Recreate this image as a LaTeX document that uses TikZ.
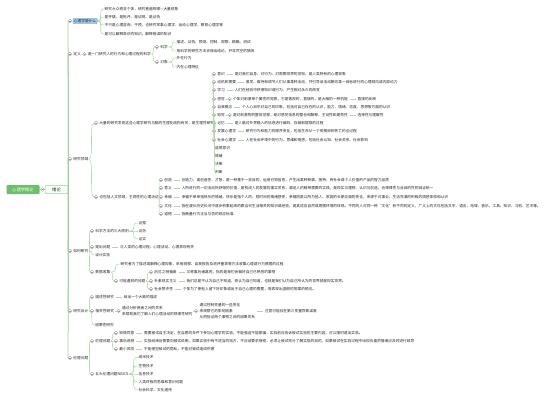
\documentclass[tikz,border=0pt]{standalone}
\usepackage{fontspec}
\setmainfont{Noto Sans CJK SC}
\usetikzlibrary{positioning}

\definecolor{rootg}{HTML}{6DBF6A}
\definecolor{linkg}{HTML}{ADDAA8}
\definecolor{trunkg}{HTML}{94D290}
\definecolor{hlblue}{HTML}{A3CBE8}
\definecolor{hlline}{HTML}{5A9BD0}
\definecolor{togc}{HTML}{A0A0A0}
\definecolor{txtc}{HTML}{262626}

\begin{document}
\begin{tikzpicture}[
    x=1pt, y=-1pt,
    txt/.style={anchor=west, inner sep=0.5pt, text=txtc, font=\fontsize{3.7}{6}\selectfont},
    multi/.style={txt, align=left},
    root/.style={fill=rootg, text=white, rounded corners=1pt, minimum width=33pt, minimum height=9pt, inner sep=0pt, font=\fontsize{4.3}{5}\selectfont},
    topic/.style={draw=trunkg, fill=green!3, line width=0.5pt, rounded corners=1pt, minimum width=23pt, minimum height=8pt, inner sep=0pt, text=txtc, font=\fontsize{4.3}{5}\selectfont},
    hl/.style={txt, fill=hlblue, draw=hlline, line width=0.3pt, rounded corners=0.8pt, inner sep=1pt},
    tog/.style={circle, draw=togc, fill=white, line width=0.35pt, minimum size=3.6pt, inner sep=0pt,
      path picture={\draw[togc, line width=0.35pt] ([xshift=-1pt]path picture bounding box.center) -- ([xshift=1pt]path picture bounding box.center);}},
    link/.style={draw=linkg, line width=0.55pt},
    trunk/.style={draw=trunkg, line width=0.75pt},
    tie/.style={link, shorten <=1.2pt, shorten >=1.2pt},
  ]
  \fill[white] (0,0) rectangle (549,400);
  \useasboundingbox (0,0) rectangle (549,400);

  % root and main topic
  \node[root] (root) at (23,189.5) {心理学概论};
  \node[tog] (tXulun) at (42.5,189.5) {};
  \node[topic] (xulun) at (56.5,189.5) {绪论};

  % first level
  \node[tog] (tWhat) at (70,21) {};
  \node[hl, right=0.8pt of tWhat] (what) {心理学是什么};
  \node[tog] (tDef) at (70,54) {};
  \node[txt, right=0.8pt of tDef] (def) {定义};
  \node[tog] (tField) at (70,159) {};
  \node[txt, right=0.8pt of tField] (field) {研究领域};
  \node[tog] (tHow) at (70,251) {};
  \node[txt, right=0.8pt of tHow] (how) {如何研究};
  \node[tog] (tDesign) at (70,311) {};
  \node[txt, right=0.8pt of tDesign] (design) {研究设计};
  \node[tog] (tEthic) at (70,358) {};
  \node[txt, right=0.8pt of tEthic] (ethic) {伦理问题};

  % what is psychology
  \node[txt] (what1) at (104,9) {研究大众而非个体，研究普遍规律—大量现象};
  \node[txt] (what2) at (104,17) {是怀疑、是批评、是证明、是证伪};
  \node[txt] (what3) at (104,25) {不只是心理咨询、干预，也研究军事心理学、运动心理学、教育心理学等};
  \node[txt] (what4) at (104,34) {是可以解释常识的知识，解释错误的知识};

  % definition
  \node[tog, right=1pt of def] (tDef1) {};
  \node[txt, right=0.8pt of tDef1] (def1) {是一门研究人的行为和心理过程的科学};
  \node[tog] (tSci) at (157,47) {};
  \node[txt, right=0.8pt of tSci] (sci) {科学};
  \node[tog] (tObj) at (157,62) {};
  \node[txt, right=0.8pt of tObj] (obj) {对象};
  \node[txt] (sci1) at (176,42) {描述、证伪、预测、控制、观察、精确、测试};
  \node[txt] (sci2) at (176,51) {用科学的研究方法去得出结论，并非凭空的猜测};
  \node[txt] (obj1) at (176,58) {外在行为};
  \node[txt] (obj2) at (176,67) {内在心理特征};

  % fields
  \node[tog] (tBio) at (96,123) {};
  \node[txt, right=0.8pt of tBio] (bio) {大量的研究发现这些心理学研究与脑的生理化结构有关，是生理性研究};
  \node[tog] (tCon) at (214,74) {};
  \node[txt, right=0.8pt of tCon] (con) {意识};
  \node[txt, right=8.5pt of con] (conD) {是对我们自身、对行为、对周围世界的觉知，是人类特有的心理现象};
  \node[tog] (tMot) at (214,82) {};
  \node[txt, right=0.8pt of tMot] (mot) {动机和需要};
  \node[txt, right=8.5pt of mot] (motD) {激发、维持和调节人们从事某种活动，并引导该活动朝向某一目标进行的心理倾向或内部动力};
  \node[tog] (tLrn) at (214,90) {};
  \node[txt, right=0.8pt of tLrn] (lrn) {学习};
  \node[txt, right=8.5pt of lrn] (lrnD) {人们在经验中获得知识或行为，产生相对永久的改变};
  \node[tog] (tSen) at (214,99) {};
  \node[txt, right=0.8pt of tSen] (sen) {感觉};
  \node[tog, right=2pt of sen] (tSenD) {};
  \node[txt, right=0.8pt of tSenD] (senD) {个体对刺激单个属性的觉察，它是客观的，直接的，是大脑的一种机能};
  \node[txt, right=8.5pt of senD] (senE) {直接的反映};
  \node[tog] (tSelf) at (214,107) {};
  \node[txt, right=0.8pt of tSelf] (self) {自我概念};
  \node[txt, right=8.5pt of self] (selfD) {个人心目中对自己的印象，包括对自己存在的认识，能力、情绪、态度、思想等方面的认识};
  \node[tog] (tPer) at (214,115) {};
  \node[txt, right=0.8pt of tPer] (per) {知觉};
  \node[tog, right=2pt of per] (tPerD) {};
  \node[txt, right=0.8pt of tPerD] (perD) {是对刺激物的整体觉察，是对感觉信息的整合和解释，主动性和建构性};
  \node[txt, right=8.5pt of perD] (perE) {选择性与理解性};
  \node[tog] (tMem) at (214,123) {};
  \node[txt, right=0.8pt of tMem] (mem) {记忆};
  \node[txt, right=8.5pt of mem] (memD) {是人脑对外界输入的信息进行编码、存储和提取的过程};
  \node[tog] (tDev) at (214,131) {};
  \node[txt, right=0.8pt of tDev] (dev) {发展心理学};
  \node[txt, right=8.5pt of dev] (devD) {研究行为和能力的顺序变化，包括生命从一个受精卵到死亡的全过程};
  \node[tog] (tSoc) at (214,140) {};
  \node[txt, right=0.8pt of tSoc] (soc) {社会心理学};
  \node[txt, right=8.5pt of soc] (socD) {人在社会环境中的行为、思维和情感，包括社会认知、社会关系、社会影响};
  \node[txt] (moral) at (214.5,148) {道德意识};
  \node[txt] (emo) at (214.5,156) {情绪};
  \node[txt] (dec) at (214.5,164) {决策};
  \node[txt] (judge) at (214.5,172) {判断};

  \node[tog] (tHum) at (96,197) {};
  \node[txt, right=0.8pt of tHum] (hum) {也包括人文领域，主观性的心理活动};
  \node[tog] (tCre) at (161,180) {};
  \node[txt, right=0.8pt of tCre] (cre) {创造};
  \node[txt, right=8.5pt of cre] (creD) {创造力，或创造性、才智，是一种基于一定目的，运用已知信息，产生出某种新颖、独特、有社会或个人价值的产品的智力品质};
  \node[tog] (tMean) at (161,188) {};
  \node[txt, right=0.8pt of tMean] (mean) {意义};
  \node[txt, right=8.5pt of mean] (meanD) {人所进行的一切活动所获得的价值，是构成人的发展的事实关系，满足人的精神需要的实践，是现实与理想、认识与创造、合规律性与合目的性的辩证统一};
  \node[tog] (tHap) at (161,197) {};
  \node[txt, right=0.8pt of tHap] (hap) {幸福};
  \node[txt, right=8.5pt of hap] (hapD) {幸福不单单指快乐的情绪，快乐是指个人的、短时间的情绪感受；幸福则是以所为他人、家庭的长期正面的变化，来源于对事业、生活充满的积极的情感体验和认识};
  \node[tog] (tCul) at (161,206) {};
  \node[txt, right=0.8pt of tCul] (cul) {文化};
  \node[txt, right=8.5pt of cul] (culD) {指在漫长历史长河中逐步积累起来的跟当代生活相关的知识或经验，是其适应自然或周围环境的体现。不同的人对同一种“文化”有不同的定义，广义上的文化包括文字、语言、地域、音乐、工具、知识、习俗、艺术等。};
  \node[tog] (tMor) at (161,214) {};
  \node[txt, right=0.8pt of tMor] (mor) {道德};
  \node[txt, right=8.5pt of mor] (morD) {指衡量行为正当与否的观念标准};

  % how to study
  \node[tog] (tRule) at (92,231) {};
  \node[txt, right=0.8pt of tRule] (rule) {科学方法的三大原则};
  \node[txt] (rule1) at (138,223) {证据};
  \node[txt] (rule2) at (138,231) {证伪};
  \node[txt] (rule3) at (138,239) {证实};
  \node[tog] (tAsk) at (92,247) {};
  \node[txt, right=0.8pt of tAsk] (ask) {提出问题};
  \node[txt, right=8.5pt of ask] (askD) {与人类的心理过程、心理活动、心理表现有关};
  \node[txt] (plan) at (94.6,255) {设计实验};
  \node[tog] (tData) at (92,272) {};
  \node[txt, right=0.8pt of tData] (data) {数据收集};
  \node[txt] (data1) at (120,264) {研究者为了描述或解释心理现象，采用观察、自我报告及测评量表等方法收集心理或行为数据的过程};
  \node[tog] (tIssue) at (116,281) {};
  \node[txt, right=0.8pt of tIssue] (issue) {可能遇到的问题};
  \node[tog] (tHind) at (151,272) {};
  \node[txt, right=0.8pt of tHind] (hind) {后见之明偏差};
  \node[txt, right=8.5pt of hind] (hindD) {又称事后诸葛亮，指的是我们会偏好自己已熟悉的事物};
  \node[tog] (tNaive) at (151,281) {};
  \node[txt, right=0.8pt of tNaive] (naive) {朴素现实主义};
  \node[txt, right=8.5pt of naive] (naiveD) {我们总是不认为自己不知道，而认为自己知道，也就是我们认为自己所认为的世界就是现实世界。};
  \node[tog] (tAppr) at (151,289) {};
  \node[txt, right=0.8pt of tAppr] (appr) {社会赞许性};
  \node[txt, right=8.5pt of appr] (apprD) {个体为了使他人留下好印象或出于自己心理的需要，而表现出虚假的答案的倾向。};

  % research design
  \node[tog] (tDesc) at (92,297) {};
  \node[txt, right=0.8pt of tDesc] (desc) {描述性研究};
  \node[txt, right=8.5pt of desc] (descD) {给出一个大致的描述};
  \node[tog] (tCorr) at (92,311) {};
  \node[txt, right=0.8pt of tCorr] (corr) {相关性研究};
  \node[tog, right=2pt of corr] (tCorrD) {};
  \node[multi, right=0.8pt of tCorrD] (corrD) {通过分析两者之间的关系\\来帮助我们了解人们心理活动的规律性研究};
  \node[tog, right=1pt of corrD] (tExp) {};
  \node[multi, right=0.8pt of tExp] (exp) {通过控制变量的一些变化\\来观察它的影响因素\\从而验证两个事物之间的因果关系};
  \node[txt, right=8.5pt of exp] (expD) {注意可能存在第三变量导致误差};
  \node[txt] (cause) at (94.6,325) {因果性研究};

  % ethics
  \node[tog] (tEth1) at (92,341) {};
  \node[txt, right=0.8pt of tEth1] (eth1) {伦理问题};
  \node[tog] (tCons) at (116,333) {};
  \node[txt, right=0.8pt of tCons] (cons) {知情同意};
  \node[txt, right=8.5pt of cons] (consD) {需要被试自主决定，在自愿的条件下参加心理学的实验，不能强迫不能欺骗，实验前应告诉被试实验的主要内容，可以随时退出实验。};
  \node[tog] (tDebr) at (116,341) {};
  \node[txt, right=0.8pt of tDebr] (debr) {事后说明};
  \node[txt, right=8.5pt of debr] (debrD) {实验结束后需要向被试说明，如果实验中有不适当的地方，不应该要求保密，必须让被试充分了解实验的目的，如果被试在实验过程中出现负面的情绪应及时进行疏导};
  \node[tog] (tRisk) at (116,349) {};
  \node[txt, right=0.8pt of tRisk] (risk) {最小风险};
  \node[txt, right=8.5pt of risk] (riskD) {不能侵犯被试的隐私，不能对被试造成伤害};
  \node[tog] (tNbic) at (92,374) {};
  \node[txt, right=0.8pt of tNbic] (nbic) {五大伦理问题NBICS};
  \node[txt] (nano) at (138,357) {纳米技术};
  \node[txt] (biot) at (138,366) {生物技术};
  \node[txt] (info) at (138,374) {信息技术};
  \node[txt] (cogn) at (138,382) {人类终极的思维和意识问题};
  \node[txt] (socs) at (138,390) {社会科学、文化遗传};

  % connectors
  \draw[trunk] (root.east) -- (tXulun.west);
  \foreach \b in {tWhat, tDef, tField, tHow, tDesign, tEthic}
    \draw[trunk] (xulun.east) .. controls (xulun.east -| \b.west) and (\b.west -| xulun.east) .. (\b.west);
  \foreach \a/\b in {what/what1, what/what2, what/what3, what/what4,
      def1/tSci, def1/tObj, sci/sci1, sci/sci2, obj/obj1, obj/obj2,
      field/tBio, field/tHum,
      bio/tCon, bio/tMot, bio/tLrn, bio/tSen, bio/tSelf, bio/tPer, bio/tMem, bio/tDev, bio/tSoc,
      bio/moral, bio/emo, bio/dec, bio/judge,
      hum/tCre, hum/tMean, hum/tHap, hum/tCul, hum/tMor,
      how/tRule, how/tAsk, how/plan, how/tData,
      rule/rule1, rule/rule2, rule/rule3,
      data/data1, data/tIssue, issue/tHind, issue/tNaive, issue/tAppr,
      design/tDesc, design/tCorr, design/cause,
      ethic/tEth1, ethic/tNbic, eth1/tCons, eth1/tDebr, eth1/tRisk,
      nbic/nano, nbic/biot, nbic/info, nbic/cogn, nbic/socs}
    \draw[link] (\a.east) .. controls (\a.east -| \b.west) and (\b.west -| \a.east) .. (\b.west);
  \foreach \a/\b in {def/tDef1, sen/tSenD, per/tPerD, corr/tCorrD, corrD/tExp}
    \draw[link] (\a.east) -- (\b.west);
  \foreach \a/\b in {con/conD, mot/motD, lrn/lrnD, senD/senE, self/selfD, perD/perE,
      mem/memD, dev/devD, soc/socD, cre/creD, mean/meanD, hap/hapD, cul/culD, mor/morD,
      ask/askD, hind/hindD, naive/naiveD, appr/apprD, desc/descD, exp/expD,
      cons/consD, debr/debrD, risk/riskD}
    \draw[tie] (\a.east) -- (\b.west);
\end{tikzpicture}
\end{document}
